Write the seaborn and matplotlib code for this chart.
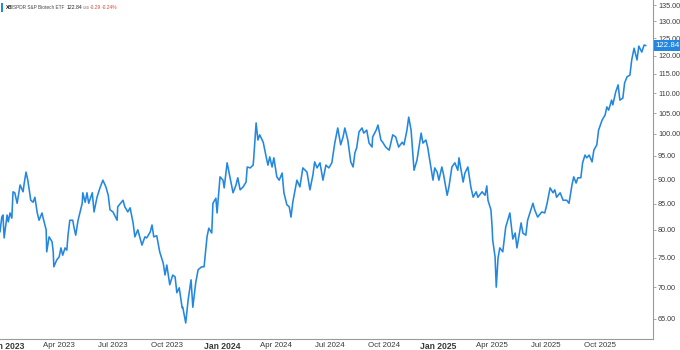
import matplotlib
matplotlib.use("Agg")
import matplotlib.pyplot as plt
import matplotlib.ticker as mticker
from matplotlib.patches import Rectangle
import seaborn as sns
import pandas as pd

# ---------------- data ----------------
ticker_symbol = "XBI"
fund_name = "SPDR S&P Biotech ETF"
last_price = 122.84
currency = "USD"
change = -0.29
change_pct = -0.24

dates = [
    "2022-12-22", "2022-12-25", "2022-12-27", "2022-12-29", "2023-01-03", "2023-01-05", "2023-01-08", "2023-01-11", "2023-01-13", "2023-01-16",
    "2023-01-20", "2023-01-25", "2023-01-30", "2023-02-01", "2023-02-04", "2023-02-07", "2023-02-12", "2023-02-16", "2023-02-19", "2023-02-23",
    "2023-02-26", "2023-03-03", "2023-03-05", "2023-03-10", "2023-03-11", "2023-03-15", "2023-03-20", "2023-03-22", "2023-03-23", "2023-03-28",
    "2023-04-01", "2023-04-04", "2023-04-07", "2023-04-11", "2023-04-14", "2023-04-16", "2023-04-19", "2023-04-24", "2023-04-26", "2023-04-29",
    "2023-05-03", "2023-05-10", "2023-05-11", "2023-05-15", "2023-05-18", "2023-05-21", "2023-05-27", "2023-05-30", "2023-06-04", "2023-06-09",
    "2023-06-14", "2023-06-19", "2023-06-23", "2023-06-26", "2023-07-01", "2023-07-08", "2023-07-09", "2023-07-18", "2023-07-21", "2023-07-26",
    "2023-07-30",
    "2023-08-04", "2023-08-07", "2023-08-12", "2023-08-19", "2023-08-24", "2023-08-27", "2023-09-02", "2023-09-05", "2023-09-08", "2023-09-13",
    "2023-09-18", "2023-09-24", "2023-09-27", "2023-09-30", "2023-10-05", "2023-10-10", "2023-10-14", "2023-10-17", "2023-10-21", "2023-10-26",
    "2023-10-27", "2023-11-01", "2023-11-05", "2023-11-10", "2023-11-13", "2023-11-18", "2023-11-22", "2023-11-28", "2023-12-02", "2023-12-07",
    "2023-12-10", "2023-12-15", "2023-12-17", "2023-12-22", "2023-12-24", "2023-12-29", "2024-01-03", "2024-01-05", "2024-01-10", "2024-01-15",
    "2024-01-20", "2024-01-25", "2024-01-28", "2024-02-01", "2024-02-06", "2024-02-11", "2024-02-13", "2024-02-18", "2024-02-23", "2024-02-24",
    "2024-02-28", "2024-03-02", "2024-03-05",
    "2024-03-11", "2024-03-16", "2024-03-19", "2024-03-22", "2024-03-26", "2024-03-29", "2024-04-03", "2024-04-07", "2024-04-12", "2024-04-15",
    "2024-04-20", "2024-04-24", "2024-04-27", "2024-04-30", "2024-05-07", "2024-05-12", "2024-05-17", "2024-05-24", "2024-05-29", "2024-06-03",
    "2024-06-06", "2024-06-10", "2024-06-15", "2024-06-20", "2024-06-25", "2024-06-30", "2024-07-05", "2024-07-10", "2024-07-15", "2024-07-20",
    "2024-07-24", "2024-07-27", "2024-08-01", "2024-08-06", "2024-08-10", "2024-08-13", "2024-08-16", "2024-08-20", "2024-08-25", "2024-08-28",
    "2024-09-02", "2024-09-06", "2024-09-11", "2024-09-12", "2024-09-18", "2024-09-21", "2024-09-26", "2024-09-29", "2024-10-04", "2024-10-10",
    "2024-10-16", "2024-10-21", "2024-10-26", "2024-11-01", "2024-11-04", "2024-11-09", "2024-11-12", "2024-11-16", "2024-11-21", "2024-11-26",
    "2024-12-03", "2024-12-06", "2024-12-11", "2024-12-14", "2024-12-18", "2024-12-23", "2024-12-26", "2024-12-30", "2025-01-02", "2025-01-07",
    "2025-01-10", "2025-01-16", "2025-01-19", "2025-01-24", "2025-01-29", "2025-02-03", "2025-02-05", "2025-02-12", "2025-02-15", "2025-02-20",
    "2025-02-25", "2025-03-01", "2025-03-06", "2025-03-09", "2025-03-16", "2025-03-21", "2025-03-24", "2025-03-26", "2025-03-31", "2025-04-02",
    "2025-04-03", "2025-04-07", "2025-04-09", "2025-04-12", "2025-04-15", "2025-04-20", "2025-04-25", "2025-05-02", "2025-05-07", "2025-05-11",
    "2025-05-14", "2025-05-21", "2025-05-24", "2025-05-29", "2025-06-01", "2025-06-10", "2025-06-13", "2025-06-18", "2025-06-25", "2025-06-30",
    "2025-07-04", "2025-07-09", "2025-07-14", "2025-07-17", "2025-07-20", "2025-07-26", "2025-07-31", "2025-08-06", "2025-08-10", "2025-08-15",
    "2025-08-18", "2025-08-22", "2025-08-25", "2025-08-30", "2025-09-02", "2025-09-06", "2025-09-09", "2025-09-13", "2025-09-18", "2025-09-21",
    "2025-09-26", "2025-09-29", "2025-10-05", "2025-10-10", "2025-10-13", "2025-10-16", "2025-10-21", "2025-10-23", "2025-10-28", "2025-11-01",
    "2025-11-04", "2025-11-09", "2025-11-12", "2025-11-16", "2025-11-21", "2025-11-24", "2025-11-28", "2025-12-03", "2025-12-06", "2025-12-11",
    "2025-12-15", "2025-12-18",
]

prices = [
    79.6, 82.4, 82.8, 78.5, 82.8, 81.5, 83.2, 82.2, 87.4, 87.2,
    85.1, 88.8, 87.4, 89.2, 91.5, 89.8, 85.7, 85.3, 86.3, 83.2,
    81.8, 83.2, 82.2, 80.0, 76.0, 78.7, 77.8, 76.0, 73.4, 74.6,
    75.1, 76.7, 75.4, 76.7, 76.3, 79.0, 81.8, 81.8, 80.5, 79.0,
    81.8, 85.1, 87.2, 85.3, 87.2, 85.1, 87.2, 83.4, 86.3, 88.2,
    89.8, 88.4, 86.7, 83.8, 83.4, 81.8, 84.4, 85.7, 84.4, 83.4,
    84.2,
    81.3, 78.7, 80.0, 77.2, 78.7, 78.5, 79.6, 80.9, 78.7, 78.9,
    76.0, 74.0, 72.0, 73.7, 70.4, 72.0, 71.7, 69.1, 69.9, 66.7,
    66.8, 64.4, 67.9, 71.2, 66.8, 70.8, 72.9, 73.4, 73.4, 78.7,
    80.3, 79.4, 85.1, 86.1, 83.2, 90.5, 89.8, 88.2, 93.5, 90.3,
    87.2, 88.8, 90.3, 87.8, 88.4, 89.4, 92.6, 92.4, 93.0, 94.6,
    102.6, 98.6, 99.8,
    98.1, 94.8, 93.0, 94.8, 92.6, 94.6, 90.5, 89.8, 91.3, 87.2,
    84.8, 84.4, 82.4, 85.3, 89.8, 88.4, 92.4, 91.5, 87.8, 90.9,
    93.7, 92.4, 93.5, 89.8, 93.0, 92.4, 93.5, 97.9, 101.4, 97.5,
    99.3, 101.4, 98.6, 93.7, 92.6, 95.7, 96.8, 100.5, 101.4, 100.2,
    100.9, 97.9, 97.0, 99.3, 100.9, 102.1, 98.6, 98.1, 97.0, 96.3,
    99.8, 99.3, 97.0, 98.1, 97.5, 100.9, 104.0, 100.9, 91.9, 94.1,
    100.2, 97.9, 98.6, 97.0, 93.7, 89.8, 92.4, 91.5, 89.8, 92.6,
    90.9, 86.7, 88.4, 92.6, 93.5, 91.9, 94.6, 89.4, 91.3, 92.6,
    88.4, 86.3, 87.4, 86.3, 87.4, 86.7, 88.6, 85.7, 83.8, 80.5,
    78.1, 75.1, 70.0, 74.9, 76.7, 76.0, 80.5, 83.2, 78.3, 79.4,
    76.7, 81.3, 79.4, 79.0, 81.8, 85.1, 83.8, 82.4, 83.4, 83.2,
    85.1, 88.2, 87.2, 87.8, 86.3, 87.2, 85.7, 85.7, 85.1, 88.8,
    90.5, 89.2, 90.3, 90.3, 93.5, 95.2, 94.6, 95.2, 93.7, 96.3,
    97.5, 100.9, 103.3, 104.5, 106.5, 105.7, 108.2, 107.0, 110.3, 112.1,
    108.2, 108.7, 112.6, 114.2, 114.7, 118.8, 122.1, 118.8, 122.7, 121.0,
    123.0, 122.84,
]

y_ticks = [65, 70, 75, 80, 85, 90, 95, 100, 105, 110, 115, 120, 125, 130, 135]
x_tick_dates = ["2023-01-01", "2023-04-01", "2023-07-01", "2023-10-01", "2024-01-01", "2024-04-01",
                "2024-07-01", "2024-10-01", "2025-01-01", "2025-04-01", "2025-07-01", "2025-10-01"]
x_tick_labels = ["Jan 2023", "Apr 2023", "Jul 2023", "Oct 2023", "Jan 2024", "Apr 2024",
                 "Jul 2024", "Oct 2024", "Jan 2025", "Apr 2025", "Jul 2025", "Oct 2025"]

assert len(dates) == len(prices)

# ---------------- style ----------------
LINE = "#2387e0"
TXT = "#3a3a3a"
SPINE = "#9a9a9a"

sns.set_style("white")
plt.rcParams["font.family"] = ["Liberation Sans", "DejaVu Sans"]

df = pd.DataFrame({"date": pd.to_datetime(dates), "price": prices})

W, H = 680, 350
fig = plt.figure(figsize=(W / 100, H / 100), dpi=100)
fig.patch.set_facecolor("white")
ax = fig.add_axes([0, 11 / H, 653 / W, 339 / H])

sns.lineplot(data=df, x="date", y="price", ax=ax, color=LINE, linewidth=1.15, legend=False)

ax.set_yscale("log")
ax.set_ylim(62.04, 136.6)
ax.set_xlim(pd.Timestamp("2022-12-22"), pd.Timestamp("2025-12-30"))
ax.set_xlabel("")
ax.set_ylabel("")

ax.yaxis.tick_right()
ax.yaxis.set_major_locator(mticker.FixedLocator(y_ticks))
ax.yaxis.set_minor_locator(mticker.NullLocator())
ax.yaxis.set_major_formatter(mticker.FuncFormatter(lambda v, p: f"{v:.2f}"))
ax.tick_params(axis="y", which="major", length=2, width=0.6, pad=1.6,
               labelsize=5.2, colors=SPINE, labelcolor=TXT)

ax.set_xticks(pd.to_datetime(x_tick_dates), x_tick_labels)
ax.xaxis.set_minor_locator(mticker.NullLocator())
ax.tick_params(axis="x", which="major", length=1.6, width=0.6, pad=0.4,
               labelsize=5.7, colors=SPINE, labelcolor=TXT)
for lbl in ax.get_xticklabels():
    if lbl.get_text().startswith("Jan"):
        lbl.set_fontweight("bold")
        lbl.set_fontsize(6.2)

for side in ("left", "top"):
    ax.spines[side].set_visible(False)
for side in ("right", "bottom"):
    ax.spines[side].set_color(SPINE)
    ax.spines[side].set_linewidth(0.8)
ax.grid(False)

# last price tag
ax.annotate(f"{last_price:.2f}", xy=(1, last_price), xycoords=("axes fraction", "data"),
            xytext=(2.0, 0), textcoords="offset points", ha="left", va="center",
            color="white", fontsize=5.7,
            bbox=dict(boxstyle="square,pad=0.22", fc=LINE, ec="none"),
            annotation_clip=False, zorder=5)

# header
ytop = 1 - 7.5 / H
fig.patches.append(Rectangle((1.2 / W, 1 - 11.5 / H), 1.6 / W, 8.5 / H,
                             transform=fig.transFigure, facecolor=LINE, edgecolor="none"))
fig.text(5.5 / W, ytop, ticker_symbol, fontsize=3.3, fontweight="bold", color="#222", va="center")
fig.text(13 / W, ytop, fund_name, fontsize=3.4, color="#444", va="center")
fig.text(67 / W, ytop, f"{last_price:.2f}", fontsize=3.7, color="#222", va="center")
fig.text(82.5 / W, ytop - 0.5 / H, currency, fontsize=2.4, color="#777", va="center")
fig.text(90 / W, ytop, f"{change:.2f}", fontsize=3.5, color="#d9463e", va="center")
fig.text(101.5 / W, ytop, f"{change_pct:.2f}%", fontsize=3.5, color="#d9463e", va="center")

fig.savefig("out.png", dpi=100, facecolor="white")
